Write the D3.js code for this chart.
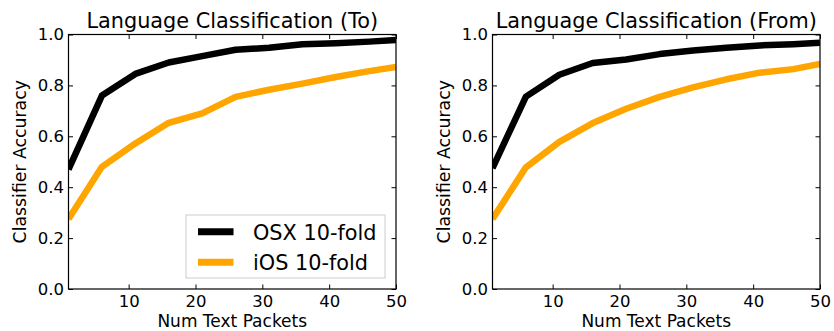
<!DOCTYPE html>
<html>
<head>
<meta charset="utf-8">
<script src="https://cdn.jsdelivr.net/npm/d3@7"></script>
<style>
  html, body { margin: 0; padding: 0; background: #fff; }
  svg { display: block; font-family: "DejaVu Sans", sans-serif; }
</style>
</head>
<body>
<svg id="chart" width="834" height="331"></svg>
<script>
// ---- data ----
const packets = [1, 6, 11, 16, 21, 26, 31, 36, 41, 46, 50];
const toOSX = [0.47, 0.76, 0.845, 0.89, 0.915, 0.94, 0.948, 0.962, 0.966, 0.972, 0.978];
const toIOS = [0.275, 0.48, 0.572, 0.653, 0.69, 0.755, 0.783, 0.807, 0.833, 0.856, 0.872];
const fromOSX = [0.475, 0.756, 0.842, 0.888, 0.902, 0.923, 0.937, 0.948, 0.957, 0.962, 0.968];
const fromIOS = [0.275, 0.478, 0.578, 0.652, 0.708, 0.755, 0.792, 0.824, 0.85, 0.864, 0.884];
const xTicks = [10, 20, 30, 40, 50];
const yTicks = [0.0, 0.2, 0.4, 0.6, 0.8, 1.0];
const seriesNames = ["OSX 10-fold", "iOS 10-fold"];
const seriesColors = ["#000000", "#ffa500"];
const panels = [
  { title: "Language Classification (To)", osx: toOSX, ios: toIOS, left: 68.5, legend: true },
  { title: "Language Classification (From)", osx: fromOSX, ios: fromIOS, left: 492.5, legend: false }
];

(function () {
const svg = d3.select("#chart");
const W = 327.5, topY = 34.5, bottomY = 289;

panels.forEach((p, pi) => {
  const x = d3.scaleLinear().domain([1, 50]).range([p.left, p.left + W]);
  const y = d3.scaleLinear().domain([0, 1]).range([bottomY, topY]);
  const g = svg.append("g");

  const clipId = "clip" + pi;
  svg.append("clipPath").attr("id", clipId).append("rect")
    .attr("x", p.left).attr("y", topY).attr("width", W).attr("height", bottomY - topY);

  const line = d3.line().x((d, i) => x(packets[i])).y(d => y(d));
  [p.osx, p.ios].forEach((vals, si) => {
    g.append("path").datum(vals)
      .attr("d", line)
      .attr("fill", "none")
      .attr("stroke", seriesColors[si])
      .attr("stroke-width", 6.5)
      .attr("stroke-linejoin", "round")
      .attr("clip-path", `url(#${clipId})`);
  });

  // axes (ticks inward, on all sides)
  const fmt = d3.format(".1f");
  const axB = d3.axisBottom(x).tickValues(xTicks).tickSizeInner(-4.5).tickSizeOuter(0).tickPadding(6.5);
  const axT = d3.axisTop(x).tickValues(xTicks).tickSizeInner(-4.5).tickSizeOuter(0).tickFormat("");
  const axL = d3.axisLeft(y).tickValues(yTicks).tickSizeInner(-4.5).tickSizeOuter(0).tickPadding(4.5).tickFormat(fmt);
  const axR = d3.axisRight(y).tickValues(yTicks).tickSizeInner(-4.5).tickSizeOuter(0).tickFormat("");

  const styleAx = sel => {
    sel.selectAll("path.domain").remove();
    sel.selectAll("line").attr("stroke", "#000").attr("stroke-width", 1);
    sel.selectAll("text").attr("fill", "#000").style("font-size", "16.5px").style("font-family", "DejaVu Sans");
  };
  g.append("g").attr("transform", `translate(0,${bottomY})`).call(axB).call(styleAx);
  g.append("g").attr("transform", `translate(0,${topY})`).call(axT).call(styleAx);
  g.append("g").attr("transform", `translate(${p.left},0)`).call(axL).call(styleAx);
  g.append("g").attr("transform", `translate(${p.left + W},0)`).call(axR).call(styleAx);

  // frame
  g.append("rect").attr("x", p.left).attr("y", topY).attr("width", W).attr("height", bottomY - topY)
    .attr("fill", "none").attr("stroke", "#000").attr("stroke-width", 1.2);

  // title
  g.append("text").attr("x", p.left + W / 2).attr("y", 27.5)
    .attr("text-anchor", "middle").style("font-size", "20.8px").text(p.title);

  // axis labels
  g.append("text").attr("x", p.left + W / 2).attr("y", 327)
    .attr("text-anchor", "middle").style("font-size", "17px").text("Num Text Packets");
  g.append("text").attr("transform", `translate(${p.left - 43},${(topY + bottomY) / 2}) rotate(-90)`)
    .attr("text-anchor", "middle").style("font-size", "17.3px").text("Classifier Accuracy");

  if (p.legend) {
    const lg = g.append("g");
    lg.append("rect").attr("x", 186).attr("y", 215).attr("width", 199).attr("height", 63)
      .attr("fill", "#fff").attr("stroke", "#cccccc").attr("stroke-width", 1);
    seriesNames.forEach((name, i) => {
      const cy = 231.7 + i * 30.6;
      lg.append("line").attr("x1", 198).attr("x2", 233.5).attr("y1", cy).attr("y2", cy)
        .attr("stroke", seriesColors[i]).attr("stroke-width", 7);
      lg.append("text").attr("x", 253).attr("y", cy + 8)
        .style("font-size", "20.8px").text(name);
    });
  }
});
})();
</script>
</body>
</html>
